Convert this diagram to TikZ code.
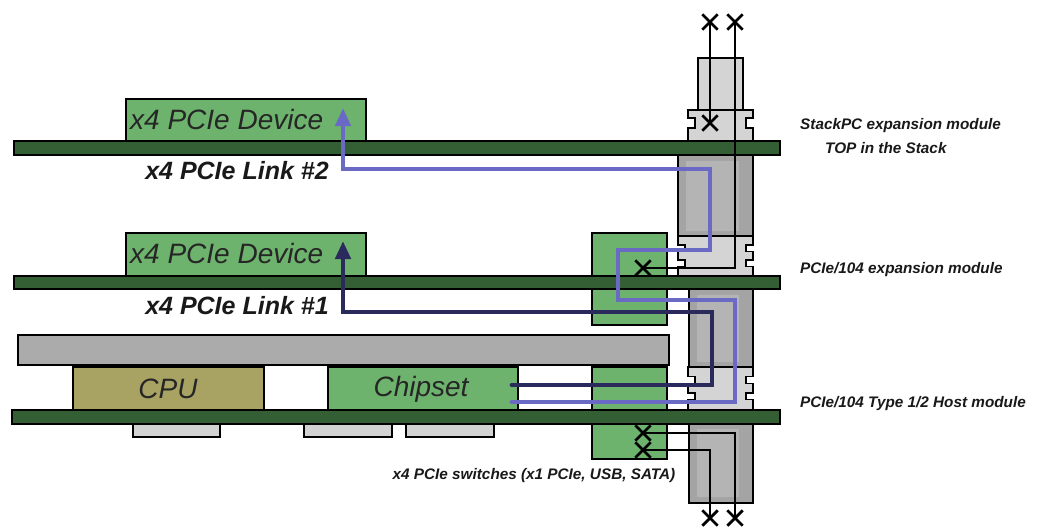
\documentclass[tikz,border=0pt]{standalone}
\usepackage{fontspec}
\setmainfont{Liberation Sans}
\usetikzlibrary{arrows.meta,shapes.misc}
\definecolor{board}{HTML}{345E34}
\definecolor{dev}{HTML}{6DB36D}
\definecolor{cpuc}{HTML}{A9A363}
\definecolor{spread}{HTML}{ABABAB}
\definecolor{padc}{HTML}{D2D2D2}
\definecolor{sockl}{HTML}{D4D4D4}
\definecolor{pind}{HTML}{A4A4A4}
\definecolor{pinl}{HTML}{B4B4B4}
\definecolor{linkb}{HTML}{6A6AC4}
\definecolor{linkn}{HTML}{2A2A5C}
\tikzset{
  part/.style={draw=black, line width=1.4pt},
  pcb/.style={part, fill=board},
  devbox/.style={part, fill=dev},
  sock/.style={part, fill=sockl},
  pins/.style={part, fill=pind},
  sig/.style={line width=2.7pt, draw=black},
  xmk/.style={cross out, draw=black, line width=2.8pt, minimum size=12.5pt, inner sep=0pt},
  lnk2/.style={line width=4.8pt, draw=linkb, line cap=round, -{Triangle[width=15pt,length=18pt]}},
  lnk1/.style={line width=4.8pt, draw=linkn, line cap=round, -{Triangle[width=15pt,length=18pt]}},
  devtxt/.style={font=\fontsize{28}{28}\selectfont\itshape, inner sep=0pt, text=black!85},
  linktxt/.style={font=\fontsize{25}{25}\selectfont\bfseries\itshape, inner sep=0pt, text=black!90},
  smalltxt/.style={font=\fontsize{15.3}{16}\selectfont\bfseries\itshape, inner sep=0pt, text=black!90}
}
\newcommand\notchsock[4]{%
  \pgfmathsetmacro\sh{#4-#2}%
  \filldraw[sock] (#1,#2) -- (#3,#2) -- (#3,{#2+0.22*\sh}) -- ({#3-7},{#2+0.22*\sh}) -- ({#3-7},{#2+0.38*\sh}) -- (#3,{#2+0.38*\sh}) -- (#3,{#2+0.6*\sh}) -- ({#3-7},{#2+0.6*\sh}) -- ({#3-7},{#2+0.76*\sh}) -- (#3,{#2+0.76*\sh}) -- (#3,#4) -- (#1,#4) -- (#1,{#2+0.76*\sh}) -- ({#1+7},{#2+0.76*\sh}) -- ({#1+7},{#2+0.6*\sh}) -- (#1,{#2+0.6*\sh}) -- (#1,{#2+0.38*\sh}) -- ({#1+7},{#2+0.38*\sh}) -- ({#1+7},{#2+0.22*\sh}) -- (#1,{#2+0.22*\sh}) -- cycle;}
\newcommand\pinblock[4]{%
  \filldraw[pins] (#1,#2) rectangle (#3,#4);
  \fill[pinl] ({#1+8},{#2+6}) rectangle ({#3-14},{#4-6});}
\begin{document}
\begin{tikzpicture}[x=1pt,y=-1pt]
\useasboundingbox (0,0) rectangle (1040,527);
\fill[white] (0,0) rectangle (1040,527);

% host module components
\filldraw[part, fill=spread] (18,335) rectangle (669,365);
\filldraw[part, fill=cpuc] (73,367) rectangle (264,410);
\filldraw[devbox] (328,367) rectangle (518,410);
\filldraw[part, fill=padc] (133,423) rectangle (220,437);
\filldraw[part, fill=padc] (304,423) rectangle (392,437);
\filldraw[part, fill=padc] (406,423) rectangle (494,437);
% switch boxes
\filldraw[devbox] (592,233) rectangle (667,325);
\filldraw[devbox] (592,367) rectangle (667,459);
% devices
\filldraw[devbox] (126,99) rectangle (366,142);
\filldraw[devbox] (126,233) rectangle (366,276);

% connectors
\filldraw[sock] (698,58) rectangle (743,112);
\filldraw[sock] (688,110) -- (753,110) -- (753,118) -- (746,118) -- (746,128) -- (753,128) -- (753,141)
  -- (688,141) -- (688,128) -- (695,128) -- (695,118) -- (688,118) -- cycle;
\pinblock{678}{155}{753}{237}
\notchsock{678}{236}{753}{276}
\pinblock{689}{289}{753}{368}
\notchsock{688}{367}{753}{410}
\pinblock{689}{423}{753}{503}

% boards
\filldraw[pcb] (14,141) rectangle (780,155);
\filldraw[pcb] (14,276) rectangle (780,289);
\filldraw[pcb] (12,410) rectangle (780,424);

% texts
\node[devtxt, anchor=west] (t2) at (130,119) {x4 PCIe Device};
\node[devtxt, anchor=west] (t1) at (130,253) {x4 PCIe Device};
\node[devtxt] (tcpu) at (168,389) {CPU};
\node[devtxt] (tchip) at (421,389) {Chipset};
\node[linktxt] (l2) at (237,171) {x4 PCIe Link \#2};
\node[linktxt] (l1) at (237,306) {x4 PCIe Link \#1};
\node[smalltxt, anchor=west] (r1) at (800,126) {StackPC expansion module};
\node[smalltxt, anchor=west] (r1b) at (825,148) {TOP in the Stack};
\node[smalltxt, anchor=west] (r2) at (800,270) {PCIe/104 expansion module};
\node[smalltxt, anchor=west] (r3) at (800,404) {PCIe/104 Type 1/2 Host module};
\node[smalltxt] (sw) at (534,476) {x4 PCIe switches (x1 PCIe, USB, SATA)};

% X marks
\node[xmk] (xa) at (710,22) {};
\node[xmk] (xb) at (735,22) {};
\node[xmk] (xc) at (710,123) {};
\node[xmk] (xd) at (643,268) {};
\node[xmk] (xe) at (643,433) {};
\node[xmk] (xf) at (643,450) {};
\node[xmk] (xg) at (710,518) {};
\node[xmk] (xh) at (735,518) {};

% signal lines
\draw[sig] (xa.center) -- (xc.center);
\draw[sig] (xb.center) -- (735,268) -- (xd.center);
\draw[sig] (xe.center) -- (735,433) -- (xh.center);
\draw[sig] (xf.center) -- (710,450) -- (xg.center);

% links
\coordinate (c2) at (512,402);
\coordinate (c1) at (512,385);
\coordinate (a2) at (343,108);
\coordinate (a1) at (343,241);
\draw[lnk2] (c2) -- (735,402) -- (735,300) -- (618,300) -- (618,250) -- (710,250) -- (710,169) -- (343,169) -- (a2);
\draw[lnk1] (c1) -- (712,385) -- (712,312) -- (343,312) -- (a1);
\end{tikzpicture}
\end{document}
